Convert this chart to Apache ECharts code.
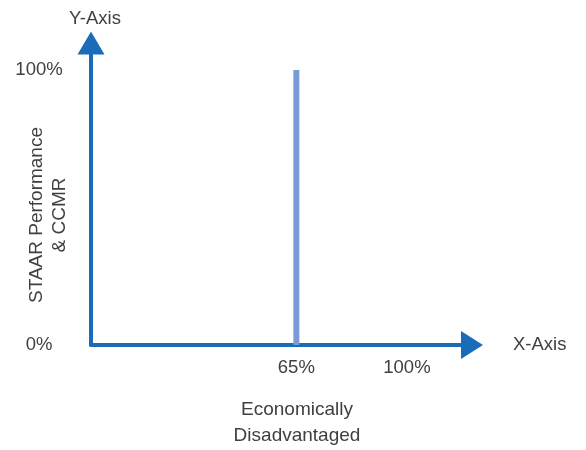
<!DOCTYPE html>
<html>
<head>
<meta charset="utf-8">
<script src="https://cdn.jsdelivr.net/npm/echarts@6/dist/echarts.min.js"></script>
<style>html,body{margin:0;padding:0;background:#fff}#c{width:586px;height:450px}</style>
</head>
<body>
<div id="c"></div>
<script>
var xTickValues = [65, 100];
var yTickValues = [0, 100];
var thresholdX = 65;
var lineYValues = [0, 100];
var xAxisName = 'X-Axis';
var yAxisName = 'Y-Axis';
var xTitle = 'Economically\nDisadvantaged';
var yTitle = 'STAAR Performance\n& CCMR';

var blue = '#1b6cb8';
var textColor = '#404040';
var font = 'Liberation Sans, Arial, sans-serif';

var chart = echarts.init(document.getElementById('c'), null, {renderer: 'canvas'});
chart.setOption({
  animation: false,
  grid: {left: 91, right: 114, top: 43, bottom: 105},
  xAxis: {
    type: 'value', min: 0, max: 120.6,
    splitLine: {show: false},
    axisTick: {show: false},
    axisLine: {show: true, lineStyle: {color: blue, width: 4}, symbol: ['none', 'triangle'], symbolSize: [28, 22]},
    axisLabel: {customValues: xTickValues, formatter: '{value}%', color: textColor, fontSize: 18.5, fontFamily: font, margin: 13},
    name: xAxisName, nameLocation: 'end', nameGap: 41,
    nameTextStyle: {color: textColor, fontSize: 18.5, fontFamily: font}
  },
  yAxis: {
    type: 'value', min: 0, max: 109.8,
    splitLine: {show: false},
    axisTick: {show: false},
    axisLine: {show: true, lineStyle: {color: blue, width: 4}, symbol: ['none', 'triangle'], symbolSize: [27, 23]},
    axisLabel: {customValues: yTickValues, formatter: '{value}%', color: textColor, fontSize: 18.5, fontFamily: font, margin: 52, align: 'center'},
    name: yAxisName, nameLocation: 'end', nameGap: 15,
    nameTextStyle: {color: textColor, fontSize: 18.5, fontFamily: font, padding: [0, 0, 0, 8]}
  },
  series: [{
    type: 'line',
    data: lineYValues.map(function (v) { return [thresholdX, v]; }),
    showSymbol: false, symbol: 'none',
    lineStyle: {color: '#7b9bd6', width: 6, cap: 'butt'},
    z: 1
  }],
  graphic: [
    {type: 'text', x: 297, y: 397, style: {text: xTitle, fill: textColor, font: '19px ' + font, textAlign: 'center', textVerticalAlign: 'top', lineHeight: 26}},
    {type: 'text', rotation: Math.PI / 2, x: 25, y: 215, style: {text: yTitle, fill: textColor, font: '19px ' + font, textAlign: 'center', textVerticalAlign: 'top', lineHeight: 23}}
  ]
});
</script>
</body>
</html>
